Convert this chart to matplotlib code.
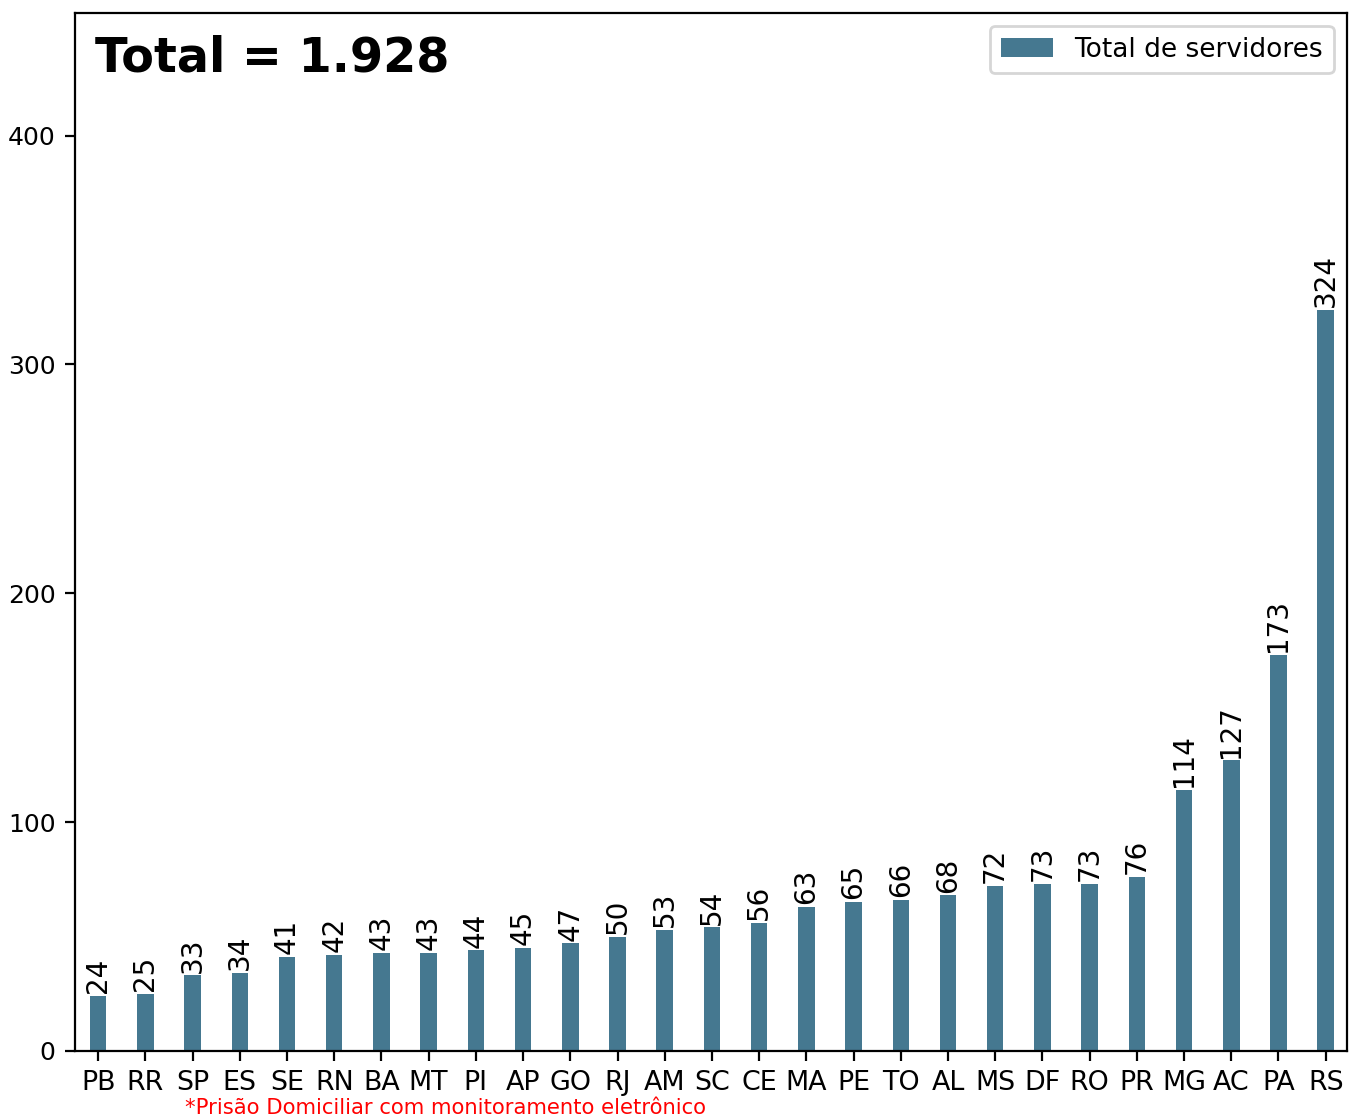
import matplotlib
matplotlib.use("Agg")
import matplotlib.pyplot as plt
import numpy as np

estados = ["PB", "RR", "SP", "ES", "SE", "RN", "BA", "MT", "PI", "AP", "GO", "RJ", "AM",
           "SC", "CE", "MA", "PE", "TO", "AL", "MS", "DF", "RO", "PR", "MG", "AC", "PA", "RS"]
servidores = [24, 25, 33, 34, 41, 42, 43, 43, 44, 45, 47, 50, 53,
              54, 56, 63, 65, 66, 68, 72, 73, 73, 76, 114, 127, 173, 324]
yticks = [0, 100, 200, 300, 400]

fig = plt.figure(figsize=(6.77, 5.595), dpi=200)
ax = fig.add_axes([0.0554, 0.0608, 0.9394, 0.9276])

x = np.arange(len(estados))
bars = ax.bar(x, servidores, width=0.35, color="#457890", label="Total de servidores")
ax.bar_label(bars, labels=[str(v) for v in servidores], rotation=90, padding=1, fontsize=10)

ax.set_xticks(x)
ax.set_xticklabels(estados, fontsize=9.7)
ax.set_yticks(yticks)
ax.tick_params(axis="y", labelsize=9)
ax.set_xlim(-0.49, 26.45)
ax.set_ylim(0, max(servidores) * 1.4)

ax.text(0.016, 0.979, "Total = 1.928", transform=ax.transAxes, fontsize=17.2,
        fontweight="bold", va="top", ha="left")
ax.legend(loc="upper right", fontsize=9.5)

fig.text(0.329, 0.0005, "*Prisão Domiciliar com monitoramento eletrônico", color="red",
         fontsize=7.6, ha="center", va="bottom")

fig.savefig("out.png", dpi=200)
